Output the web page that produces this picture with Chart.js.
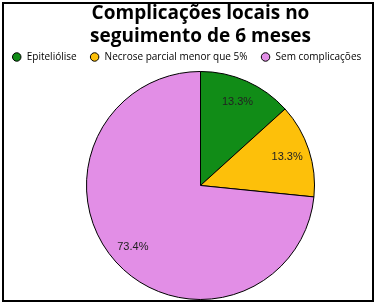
<!DOCTYPE html>
<html>
<head>
<meta charset="utf-8">
<script src="https://cdn.jsdelivr.net/npm/chart.js@4"></script>
<style>
html,body{margin:0;padding:0;background:#fff;}
#wrap{position:relative;width:377px;height:305px;}
#frame{position:absolute;left:2px;top:2px;width:368px;height:296px;border:2px solid #000;pointer-events:none;}
canvas{position:absolute;left:0;top:0;}
</style>
</head>
<body>
<div id="wrap">
<canvas id="c" width="377" height="305"></canvas>
<div id="frame"></div>
</div>
<script>
const titleLines = ["Complicações locais no", "seguimento de 6 meses"];
const categories = ["Epiteliólise", "Necrose parcial menor que 5%", "Sem complicações"];
const values = [13.3, 13.3, 73.4];
const colors = ["#118c17", "#fdc00a", "#e28ee6"];

const layoutPlugin = {
  id: 'layoutTweaks',
  afterLayout(chart) {
    // title and pie sit right of the canvas centre, legend slightly left, as in the reference
    const t = chart.titleBlock;
    if (t) { t.left += 12; t.right += 12; }
    const lg = chart.legend;
    if (lg) { lg.left -= 2; lg.right -= 2; lg.top -= 9; lg.bottom -= 9; }
    const a = chart.chartArea;
    a.left += 24; a.width = a.right - a.left;
    a.top -= 10; a.height = a.bottom - a.top;
  },
  afterDatasetsDraw(chart) {
    const ctx = chart.ctx;
    const meta = chart.getDatasetMeta(0);
    ctx.save();
    ctx.font = '11px "Liberation Sans", Arial, sans-serif';
    ctx.fillStyle = '#222';
    ctx.textAlign = 'center';
    ctx.textBaseline = 'middle';
    meta.data.forEach((arc, i) => {
      const p = arc.getProps(['x','y','startAngle','endAngle','outerRadius'], true);
      const mid = (p.startAngle + p.endAngle) / 2;
      const r = p.outerRadius * 0.8;
      ctx.fillText(values[i].toFixed(1) + '%', p.x + Math.cos(mid) * r, p.y + Math.sin(mid) * r);
    });
    ctx.restore();
  }
};

new Chart(document.getElementById('c'), {
  type: 'pie',
  data: {
    labels: categories,
    datasets: [{
      data: values,
      backgroundColor: colors,
      borderColor: '#000',
      borderWidth: 1
    }]
  },
  options: {
    responsive: false,
    animation: false,
    layout: { padding: { top: 0, left: 0, right: 0, bottom: 5 } },
    plugins: {
      tooltip: { enabled: false },
      title: {
        display: true,
        text: titleLines,
        color: '#000',
        font: { family: '"Open Sans", sans-serif', size: 19, weight: 'bold', lineHeight: 1.21 },
        padding: { top: 2, bottom: 0 }
      },
      legend: {
        display: true,
        position: 'top',
        labels: {
          usePointStyle: true,
          pointStyle: 'circle',
          boxWidth: 10,
          boxHeight: 6,
          padding: 13,
          color: '#000',
          font: { family: '"Open Sans", sans-serif', size: 10 },
          generateLabels(chart) {
            return categories.map((c, i) => ({
              text: c, fillStyle: colors[i], strokeStyle: '#000', lineWidth: 1,
              pointStyle: 'circle', hidden: false, index: i
            }));
          }
        }
      }
    }
  },
  plugins: [layoutPlugin]
});
</script>
</body>
</html>
